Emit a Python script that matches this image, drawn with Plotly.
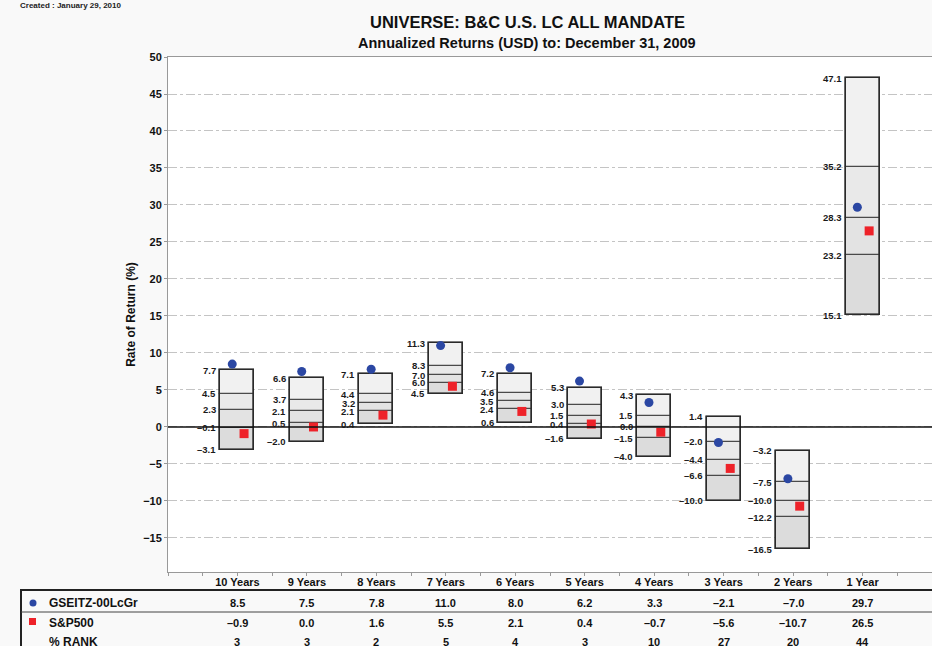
import plotly.graph_objects as go

# ---------------- data ----------------
periods = ["10 Years", "9 Years", "8 Years", "7 Years", "6 Years",
           "5 Years", "4 Years", "3 Years", "2 Years", "1 Year"]
p5 = [7.7, 6.6, 7.1, 11.3, 7.2, 5.3, 4.3, 1.4, -3.2, 47.1]
p25 = [4.5, 3.7, 4.4, 8.3, 4.6, 3.0, 1.5, -2.0, -7.5, 35.2]
p50 = [2.3, 2.1, 3.2, 7.0, 3.5, 1.5, 0.0, -4.4, -10.0, 28.3]
p75 = [-0.1, 0.5, 2.1, 6.0, 2.4, 0.4, -1.5, -6.6, -12.2, 23.2]
p95 = [-3.1, -2.0, 0.4, 4.5, 0.6, -1.6, -4.0, -10.0, -16.5, 15.1]
fund = [8.5, 7.5, 7.8, 11.0, 8.0, 6.2, 3.3, -2.1, -7.0, 29.7]
sp500 = [-0.9, 0.0, 1.6, 5.5, 2.1, 0.4, -0.7, -5.6, -10.7, 26.5]
rank = [3, 3, 2, 5, 4, 3, 10, 27, 20, 44]
fund_name = "GSEITZ-00LcGr"
bench_name = "S&P500"
rank_name = "% RANK"
title = "UNIVERSE: B&C U.S. LC ALL MANDATE"
subtitle = "Annualized Returns (USD) to: December 31, 2009"
created = "Created : January 29, 2010"

# ---------------- layout constants ----------------
W, H = 932, 646
ML, MR, MT, MB = 168, 0, 57, 74
PW = W - ML - MR
PH = H - MT - MB
FONT = "Liberation Sans, Arial, sans-serif"
BOXW = 0.49
BLUE = "#2b47a3"
RED = "#ee2229"


def fmt(v):
    s = f"{v:.1f}"
    return s.replace("-", "\u2013")


def px_x(p):
    return (p - ML) / PW


def px_y(p):
    return (H - MB - p) / PH


xs = list(range(len(periods)))
fig = go.Figure()

seg_colors = ["#dcdcdc", "#e3e3e3", "#e9e9e9", "#f1f1f1"]
segs = [(p95, p75), (p75, p50), (p50, p25), (p25, p5)]
for (lo, hi), col in zip(segs, seg_colors):
    fig.add_trace(go.Bar(
        x=xs, base=lo, y=[h - l for l, h in zip(lo, hi)], width=BOXW,
        marker=dict(color=col, line=dict(color="#4a4a4a", width=1.3)),
        hoverinfo="skip", showlegend=False))
# outline
fig.add_trace(go.Bar(
    x=xs, base=p95, y=[h - l for l, h in zip(p95, p5)], width=BOXW,
    marker=dict(color="rgba(0,0,0,0)", line=dict(color="#2a2a2a", width=1.6)),
    hoverinfo="skip", showlegend=False))

fig.add_trace(go.Scatter(
    x=[x - 0.075 for x in xs], y=fund, mode="markers",
    marker=dict(color=BLUE, size=9, symbol="circle"), showlegend=False))
fig.add_trace(go.Scatter(
    x=[x + 0.095 for x in xs], y=sp500, mode="markers",
    marker=dict(color=RED, size=9, symbol="square"), showlegend=False))

annotations = []
# box labels
for i in xs:
    for v in (p5[i], p25[i], p50[i], p75[i], p95[i]):
        annotations.append(dict(
            x=i - BOXW / 2, y=v, xref="x", yref="y", text=fmt(v),
            showarrow=False, xanchor="right", yanchor="middle", xshift=-2,
            font=dict(family=FONT, size=9.5, color="#1a1a1a", weight="bold")))

# titles
annotations.append(dict(x=px_x(527), y=px_y(22), xref="paper", yref="paper",
                        text=title, showarrow=False, xanchor="center", yanchor="middle",
                        font=dict(family=FONT, size=16.5, color="#111", weight="bold")))
annotations.append(dict(x=px_x(527), y=px_y(43), xref="paper", yref="paper",
                        text=subtitle, showarrow=False, xanchor="center", yanchor="middle",
                        font=dict(family=FONT, size=14.5, color="#111", weight="bold")))
annotations.append(dict(x=px_x(18), y=px_y(6), xref="paper", yref="paper",
                        text=created, showarrow=False, xanchor="left", yanchor="middle",
                        font=dict(family=FONT, size=8, color="#222", weight="bold")))

# table rows
row_y = [603, 623, 642]
row_names = [fund_name, bench_name, rank_name]
row_vals = [[fmt(v) for v in fund], [fmt(v) for v in sp500], [str(r) for r in rank]]
for ry, name, vals in zip(row_y, row_names, row_vals):
    annotations.append(dict(x=px_x(47), y=px_y(ry), xref="paper", yref="paper",
                            text=name, showarrow=False, xanchor="left", yanchor="middle",
                            font=dict(family=FONT, size=12, color="#111", weight="bold")))
    for i, t in enumerate(vals):
        annotations.append(dict(x=i, y=px_y(ry), xref="x", yref="paper",
                                text=t, showarrow=False, xanchor="center", yanchor="middle",
                                font=dict(family=FONT, size=11, color="#111", weight="bold")))

shapes = []
# table borders
shapes.append(dict(type="line", xref="paper", yref="paper",
                   x0=px_x(20), x1=px_x(940), y0=px_y(590), y1=px_y(590),
                   line=dict(color="#222", width=2)))
shapes.append(dict(type="line", xref="paper", yref="paper",
                   x0=px_x(21), x1=px_x(21), y0=px_y(590), y1=px_y(650),
                   line=dict(color="#222", width=2)))
shapes.append(dict(type="line", xref="paper", yref="paper",
                   x0=px_x(21), x1=px_x(940), y0=px_y(612), y1=px_y(612),
                   line=dict(color="#444", width=1)))
# legend markers in table
shapes.append(dict(type="circle", xref="paper", yref="paper",
                   x0=px_x(29.5), x1=px_x(36.5), y0=px_y(599.5), y1=px_y(606.5),
                   fillcolor=BLUE, line=dict(width=0)))
shapes.append(dict(type="rect", xref="paper", yref="paper",
                   x0=px_x(29), x1=px_x(36), y0=px_y(618), y1=px_y(625),
                   fillcolor=RED, line=dict(width=0)))
# zero line
shapes.append(dict(type="line", xref="paper", yref="y", x0=0, x1=1, y0=0, y1=0,
                   line=dict(color="#111", width=1.5), layer="above"))

fig.update_layout(
    width=W, height=H,
    margin=dict(l=ML, r=MR, t=MT, b=MB),
    paper_bgcolor="#f9f9f9", plot_bgcolor="#ffffff",
    barmode="overlay", bargap=0,
    showlegend=False,
    annotations=annotations, shapes=shapes,
    font=dict(family=FONT, color="#111"),
    xaxis=dict(
        range=[-1, 10], tickmode="array", tickvals=xs, ticktext=periods,
        showgrid=False, zeroline=False, showline=True, linecolor="#999", linewidth=1,
        mirror=True, ticks="outside", ticklen=3, tickcolor="#999",
        ticklabelstandoff=-3,
        tickfont=dict(family=FONT, size=11, color="#111", weight="bold"),
        minor=dict(tick0=-1, dtick=0.5, ticks="outside", ticklen=3, tickcolor="#999"),
    ),
    yaxis=dict(
        range=[-19.6, 50], tickmode="linear", tick0=0, dtick=5,
        showgrid=True, gridcolor="#c4c4c4", griddash="dashdot", gridwidth=1,
        zeroline=False, showline=True, linecolor="#999", linewidth=1,
        ticks="outside", ticklen=3, tickcolor="#999",
        tickfont=dict(family=FONT, size=11, color="#111", weight="bold"),
        title=dict(text="Rate of Return (%)", standoff=4,
                   font=dict(family=FONT, size=12, color="#111", weight="bold")),
    ),
)

fig.write_html("out.html", config={"displayModeBar": False},
               post_script="document.body.style.margin='0';")
